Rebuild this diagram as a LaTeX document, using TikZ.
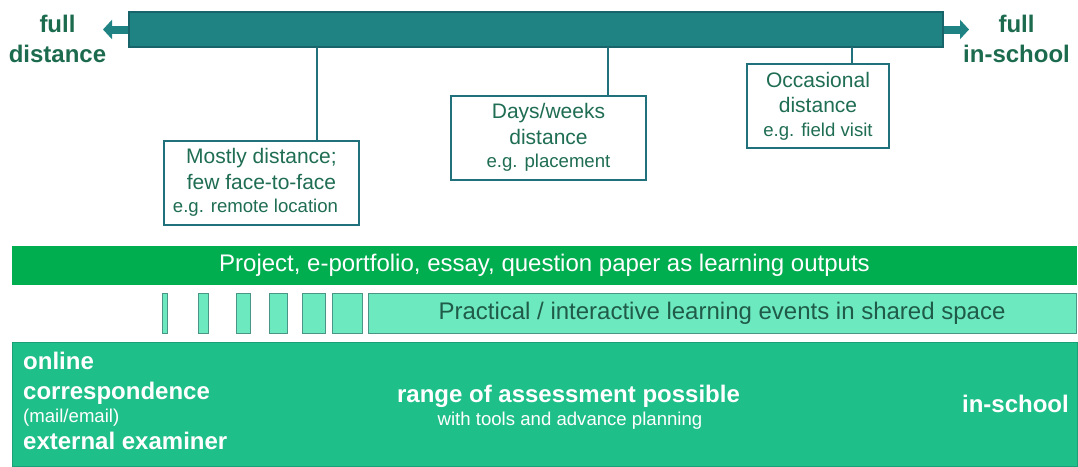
\documentclass[tikz,border=0pt]{standalone}
\usepackage{fontspec}
\setmainfont{Liberation Sans}
\usepackage{tikz}
\usetikzlibrary{arrows.meta}

\definecolor{barteal}{HTML}{1F8384}
\definecolor{bardark}{HTML}{17646A}
\definecolor{headgreen}{HTML}{1C6B4E}
\definecolor{boxteal}{HTML}{21717C}
\definecolor{boxtext}{HTML}{1F6D52}
\definecolor{outgreen}{HTML}{00AD4F}
\definecolor{mint}{HTML}{6DE9C0}
\definecolor{mintline}{HTML}{4A9686}
\definecolor{minttext}{HTML}{1F5B48}
\definecolor{schoolgreen}{HTML}{1FBF8A}
\definecolor{schoolline}{HTML}{1AA078}

\newcommand{\bigsz}{\fontsize{24}{30}\selectfont}
\newcommand{\boxsz}{\fontsize{21}{25.5}\selectfont}
\newcommand{\egsz}{\fontsize{18.6}{22}\selectfont}

\begin{document}
\begin{tikzpicture}[x=1pt,y=-1pt]
        \tikzset{head/.style = {text=headgreen, font=\bigsz\bfseries, align=center, inner sep=0, anchor=north}}
        \tikzset{bar/.style = {draw=bardark, fill=barteal, line width=1.5pt, minimum width=814pt, minimum height=35pt, inner sep=0}}
        \tikzset{barend/.style = {line width=8pt, draw=barteal, -{Triangle[length=9pt,width=19pt]}}}
        \tikzset{kind/.style = {draw=boxteal, line width=2pt, fill=white, text=boxtext, font=\boxsz, align=center, inner sep=0, minimum height=84pt}}
        \tikzset{link/.style = {draw=boxteal, line width=2pt}}
        \tikzset{strip/.style = {inner sep=0, minimum height=39pt, font=\bigsz}}
        \tikzset{evbox/.style = {draw=mintline, line width=1pt, fill=mint, inner sep=0, minimum height=40pt}}
        \tikzset{onbold/.style = {text=white, font=\bigsz\bfseries, inner sep=0, anchor=base west}}
        \tikzset{onsmall/.style = {text=white, font=\egsz, inner sep=0, anchor=base west}}
        \useasboundingbox (0,0) rectangle (1078,466);

        % scale bar
        \node[bar] (bar) at (536,29.5) {};
        \coordinate (farleft) at (103,29.5);
        \coordinate (farright) at (969,29.5);
        \draw[barend] (bar.west) -- (farleft);
        \draw[barend] (bar.east) -- (farright);
        \node[head] (fulldist) at (57.5,15) {full\\distance};
        \node[head] (fullschool) at (1016.5,15) {full\\in-school};

        % kinds of distance
        \node[kind, minimum width=195pt] (mostly) at (261.5,182.5) {Mostly distance;\\few face-to-face\\[-2pt]{\egsz e.g. remote location\hspace*{12pt}}};
        \node[kind, minimum width=195pt] (days) at (548.5,137.5) {Days/weeks\\distance\\[-2pt]{\egsz e.g. placement}};
        \node[kind, minimum width=142pt] (occas) at (818,106) {Occasional\\distance\\[-2pt]{\egsz e.g. field visit}};

        % links to bar
        \coordinate (tmostly) at (317,47);
        \coordinate (tdays) at (608,47);
        \coordinate (toccas) at (852,47);
        \draw[link] (tmostly) -- (mostly.north -| tmostly);
        \draw[link] (tdays) -- (days.north -| tdays);
        \draw[link] (toccas) -- (occas.north -| toccas);

        % strips
        \node[strip, fill=outgreen, text=white, minimum width=1065pt] (outputs) at (544.5,265.5) {Project, e-portfolio, essay, question paper as learning outputs};
        \foreach \l/\r [count=\i] in {162/167,198/208,236/250,269/287,302/325,332/362}
            \node[evbox, minimum width=\r-\l] (ev\i) at ({(\l+\r)/2},313) {};
        \node[evbox, text=minttext, font=\bigsz, minimum width=708pt] (shared) at (722,313) {Practical / interactive learning events in shared space};

        % in-school block
        \node[draw=schoolline, fill=schoolgreen, line width=1pt, minimum width=1065pt, minimum height=124pt, inner sep=0] (school) at (544.5,404) {};
        \node[onbold] (online) at (23,369) {online};
        \node[onbold] (corresp) at (23,399) {correspondence};
        \node[onsmall] (mail) at (23,422) {(mail/email)};
        \node[onbold] (examiner) at (23,449) {external examiner};
        \node[onbold, anchor=base] (range) at (568.5,402) {range of assessment possible};
        \node[onsmall, anchor=base] (tools) at (570,425) {with tools and advance planning};
        \node[onbold, anchor=base east] (inschool) at (1069,412) {in-school};
\end{tikzpicture}
\end{document}
